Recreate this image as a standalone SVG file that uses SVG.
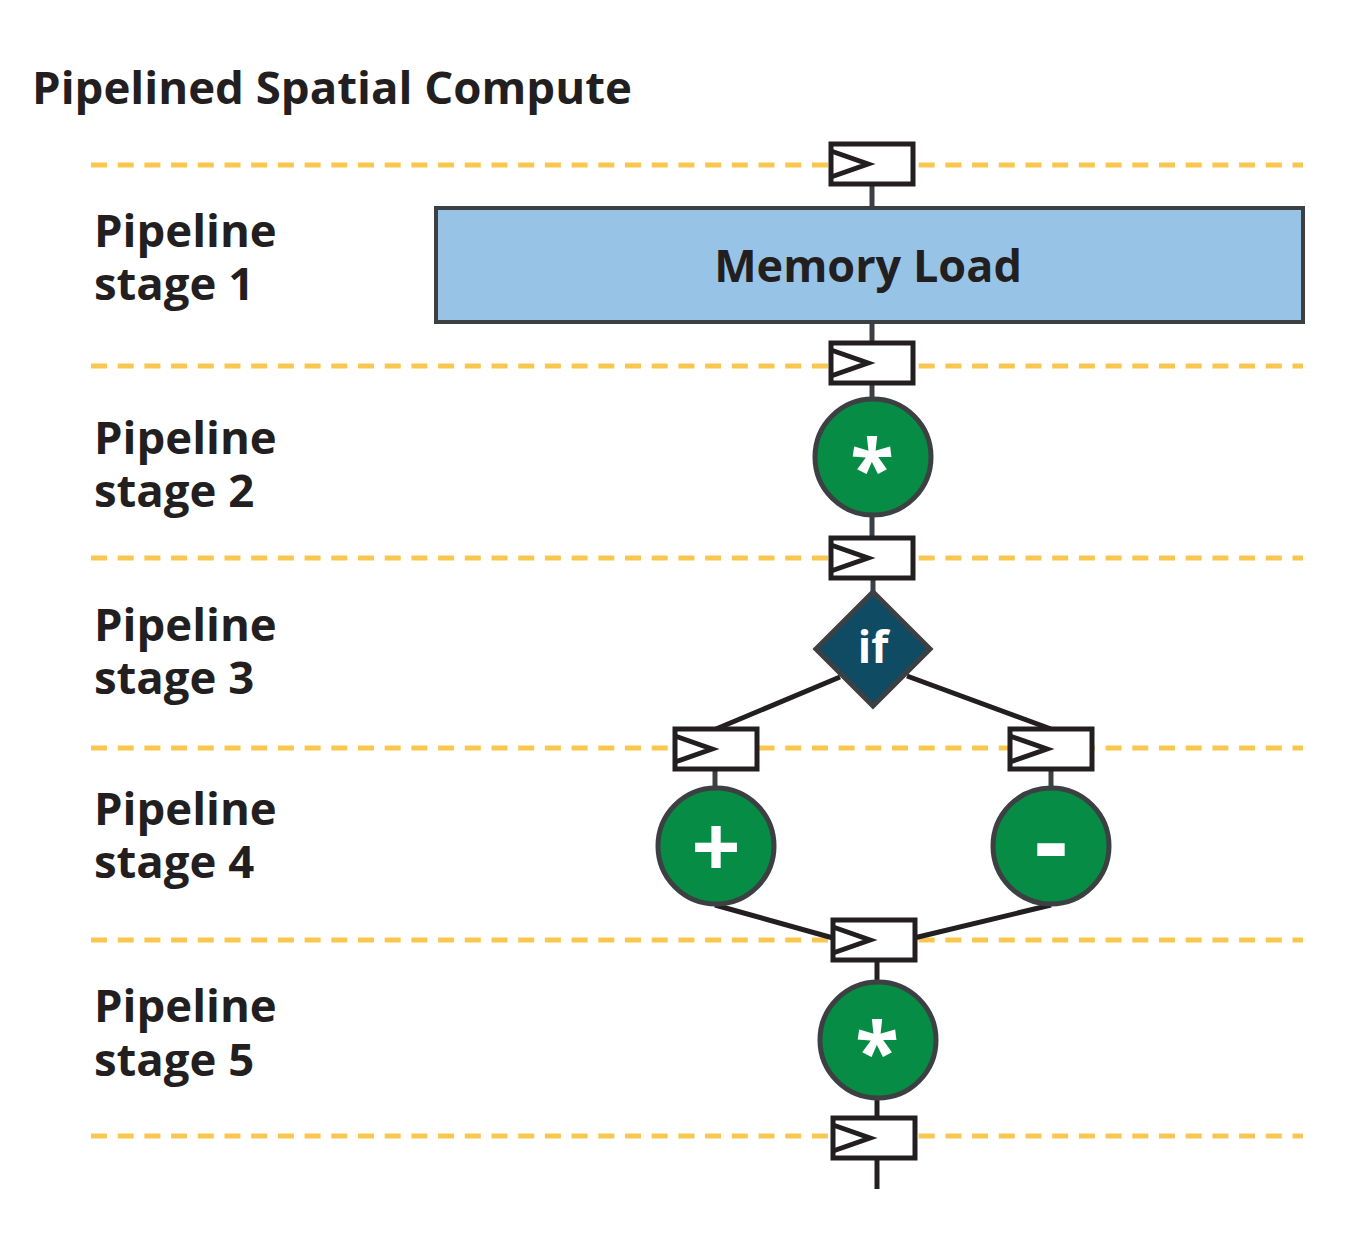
<svg xmlns="http://www.w3.org/2000/svg" width="1367" height="1236" viewBox="0 0 1367 1236">
<style>
.t{font-family:"Open Sans","Liberation Sans",sans-serif;font-weight:700;fill:#231f20}
.lbl{font-size:45.5px}
.sep{stroke:#f9c74f;stroke-width:5;stroke-dasharray:16 10.7;fill:none}
.reg{fill:#fff;stroke:#231f20;stroke-width:5}
.tri{fill:none;stroke:#231f20;stroke-width:5;stroke-linejoin:miter}
.op{fill:#078c45;stroke:#3c4043;stroke-width:5}
.wt{font-family:"Open Sans","Liberation Sans",sans-serif;font-weight:700;fill:#fff;text-anchor:middle}
.c{stroke:#3c4043;stroke-width:5;fill:none}
.d{stroke:#231f20;stroke-width:5;fill:none}
</style>
<defs>
<g id="regshape">
<rect class="reg" x="0" y="0" width="82" height="40"/>
<polyline class="tri" points="0,7 37,20 0,33"/>
</g>
</defs>
<rect width="1367" height="1236" fill="#fff"/>
<text class="t" x="32" y="104" font-size="45.6">Pipelined Spatial Compute</text>
<g id="separators">
<line class="sep" x1="91" y1="165" x2="1303" y2="165"/>
<line class="sep" x1="91" y1="366" x2="1303" y2="366"/>
<line class="sep" x1="91" y1="558" x2="1303" y2="558"/>
<line class="sep" x1="91" y1="748" x2="1303" y2="748"/>
<line class="sep" x1="91" y1="940" x2="1303" y2="940"/>
<line class="sep" x1="91" y1="1136" x2="1303" y2="1136"/>
</g>
<g id="stage-labels">
<text class="t lbl" x="94" y="247">Pipeline<tspan x="94" y="300">stage 1</tspan></text>
<text class="t lbl" x="94" y="454">Pipeline<tspan x="94" y="507">stage 2</tspan></text>
<text class="t lbl" x="94" y="641">Pipeline<tspan x="94" y="694">stage 3</tspan></text>
<text class="t lbl" x="94" y="825">Pipeline<tspan x="94" y="878">stage 4</tspan></text>
<text class="t lbl" x="94" y="1022">Pipeline<tspan x="94" y="1076">stage 5</tspan></text>
</g>
<g id="connectors">
<line class="c" x1="872" y1="183" x2="872" y2="208"/>
<line class="c" x1="872" y1="322" x2="872" y2="343"/>
<line class="c" x1="872" y1="382" x2="872" y2="399"/>
<line class="c" x1="872" y1="515" x2="872" y2="538"/>
<line class="c" x1="873" y1="578" x2="873" y2="592"/>
<line class="d" x1="840" y1="677" x2="716" y2="729"/>
<line class="d" x1="907" y1="676" x2="1051" y2="729"/>
<line class="c" x1="715" y1="768" x2="715" y2="789"/>
<line class="c" x1="1051" y1="768" x2="1051" y2="789"/>
<line class="d" x1="715" y1="905" x2="833" y2="938"/>
<line class="d" x1="1051" y1="905" x2="914" y2="938"/>
<line class="d" x1="877" y1="960" x2="877" y2="983"/>
<line class="d" x1="877" y1="1098" x2="877" y2="1118"/>
<line class="d" x1="877" y1="1158" x2="877" y2="1189"/>
</g>
<g id="reg1"><use href="#regshape" x="831" y="144"/></g>
<g id="memory-load">
<rect x="436" y="208" width="867" height="114" fill="#97c4e6" stroke="#3c4043" stroke-width="4"/>
<text class="t" x="868" y="282" font-size="45" text-anchor="middle">Memory Load</text>
</g>
<g id="reg2"><use href="#regshape" x="831" y="343"/></g>
<g id="mul1">
<circle class="op" cx="873" cy="457" r="58"/>
<text class="wt" x="872" y="497" font-size="80">*</text>
</g>
<g id="reg3"><use href="#regshape" x="831" y="538"/></g>
<g id="if">
<polygon points="873,592 930,649 873,706 816,649" fill="#0f4c64" stroke="#3c4043" stroke-width="5"/>
<text class="wt" x="873" y="663" font-size="44">if</text>
</g>
<g id="reg4a"><use href="#regshape" x="675" y="729"/></g>
<g id="reg4b"><use href="#regshape" x="1010" y="729"/></g>
<g id="add">
<circle class="op" cx="716" cy="846" r="58"/>
<text class="wt" x="716" y="878" font-size="86">+</text>
</g>
<g id="sub">
<circle class="op" cx="1051" cy="846" r="58"/>
<text class="wt" x="1051" y="878" font-size="104">-</text>
</g>
<g id="reg5"><use href="#regshape" x="833" y="920"/></g>
<g id="mul2">
<circle class="op" cx="878" cy="1040" r="58"/>
<text class="wt" x="877" y="1080" font-size="80">*</text>
</g>
<g id="reg6"><use href="#regshape" x="833" y="1118"/></g>
</svg>
